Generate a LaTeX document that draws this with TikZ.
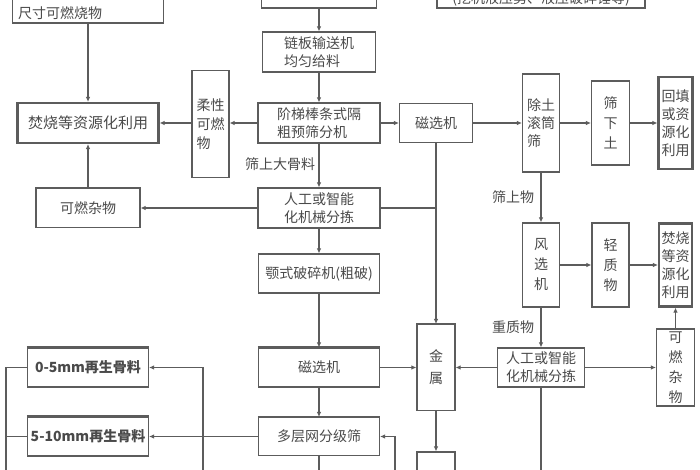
\documentclass[tikz,border=0pt]{standalone}
\usepackage{fontspec}
\setmainfont{Noto Sans CJK SC}
\usetikzlibrary{arrows.meta}
\definecolor{linegray}{HTML}{5C5C5C}
\definecolor{textgray}{HTML}{4A4A4A}

\begin{document}
\begin{tikzpicture}[x=1pt,y=-1pt,
    box/.style={draw=linegray,line width=1.1pt,text=textgray,inner sep=0pt,
      font=\fontsize{14}{18}\selectfont,align=center},
    heavy/.style={line width=2.2pt},
    vtext/.style={font=\fontsize{14}{20}\selectfont},
    lbl/.style={text=textgray,font=\fontsize{14}{18}\selectfont},
    con/.style={draw=linegray,line width=1.1pt},
    >={Latex[length=5pt,width=4.5pt]}]
      \useasboundingbox (0,0) rectangle (700,470);
      \clip (0,0) rectangle (700,470);
      \fill[white] (0,0) rectangle (700,470);
      % top row, cut off by the frame
      \node[box,minimum width=151,minimum height=40,align=left,font=\fontsize{14}{20}\selectfont] (tl) at (88,3) {拆除分拣出的木材等大\\尺寸可燃烧物};
      \node[box,minimum width=115,minimum height=40] (top) at (319,-12) {};
      \node[box,minimum width=208,minimum height=40] (tr) at (541,-12) {};
      \node[lbl] (trtxt) at (541,-1) {(挖机液压剪、液压破碎锤等)};
      % main column
      \node[box,minimum width=113,minimum height=40,align=left] (chain) at (319,52) {链板输送机\\均匀给料};
      \node[box,minimum width=122,minimum height=40,align=left] (sieve) at (319,123) {阶梯棒条式隔\\粗预筛分机};
      \node[box,minimum width=122,minimum height=40] (sortL) at (319,208) {人工或智能\\化机械分拣};
      \node[box,minimum width=121,minimum height=39] (jaw) at (319,273.5) {颚式破碎机(粗破)};
      \node[box,minimum width=121,minimum height=39] (magL) at (319,367.5) {磁选机};
      \node[box,minimum width=121,minimum height=38] (screen) at (319,436.5) {多层网分级筛};
      % left side
      \node[box,minimum width=37,minimum height=107,align=left,font=\fontsize{14}{19}\selectfont] (soft) at (210.5,124) {柔性\\可燃\\物};
      \node[box,heavy,minimum width=141,minimum height=40,font=\fontsize{15}{18}\selectfont] (burnL) at (88,123) {焚烧等资源化利用};
      \node[box,minimum width=104,minimum height=39] (miscL) at (88,208) {可燃杂物};
      \node[box,minimum width=121,minimum height=39,font=\fontsize{14}{18}\selectfont\bfseries] (agg1) at (88,367.5) {0-5mm再生骨料};
      \node[box,minimum width=121,minimum height=39,font=\fontsize{14}{18}\selectfont\bfseries] (agg2) at (88,436.5) {5-10mm再生骨料};
      % right side
      \node[box,minimum width=73,minimum height=39] (magU) at (436,123) {磁选机};
      \node[box,minimum width=37,minimum height=98,align=left] (drum) at (541,123) {除土\\滚筒\\筛};
      \node[box,vtext,minimum width=38,minimum height=84] (soil) at (610.5,123) {筛\\下\\土};
      \node[box,heavy,minimum width=34,minimum height=92] (fill) at (675.5,123) {回填\\或资\\源化\\利用};
      \node[box,vtext,minimum width=37,minimum height=84] (wind) at (541,265) {风\\选\\机};
      \node[box,vtext,minimum width=37,minimum height=84] (light) at (610.5,265) {轻\\质\\物};
      \node[box,heavy,minimum width=33,minimum height=83] (burnR) at (675.5,265) {焚烧\\等资\\源化\\利用};
      \node[box,minimum width=87,minimum height=39] (sortR) at (541,367.5) {人工或智能\\化机械分拣};
      \node[box,vtext,minimum width=38,minimum height=77] (miscR) at (675.5,367.5) {可\\燃\\杂\\物};
      \node[box,minimum width=38,minimum height=86,font=\fontsize{14}{22}\selectfont] (metal) at (436,367.5) {金\\属};
      \node[box,minimum width=38,minimum height=50] (bin) at (436,477) {};
      % heavy top edges
      \foreach \n in {miscL,agg1,agg2,magL,screen,metal}
        \draw[con,line width=2.2pt] (\n.north west) -- (\n.north east);
      % labels
      \node[lbl] (l1) at (280,164) {筛上大骨料};
      \node[lbl] (l2) at (513,197) {筛上物};
      \node[lbl] (l3) at (513,327) {重质物};
      % loose ends below the frame
      \coordinate (lbot) at (6,480);
      \coordinate (mbot) at (203,480);
      \coordinate (sbot) at (395,480);
      \coordinate (cbot) at (319,480);
      \coordinate (rbot) at (541,480);
      % connectors
      \draw[con,->] (top.south) -- (chain.north);
      \draw[con,->] (chain.south) -- (sieve.north);
      \draw[con,->] (sieve.south) -- (sortL.north);
      \draw[con,->] (sortL.south) -- (jaw.north);
      \draw[con,->] (jaw.south) -- (magL.north);
      \draw[con,->] (magL.south) -- (screen.north);
      \draw[con] (screen.south) -- (cbot);
      \draw[con,->] (tl.south) -- (burnL.north);
      \draw[con,->] (sieve.west) -- (soft.east |- sieve.west);
      \draw[con,->] (soft.west |- burnL.east) -- (burnL.east);
      \draw[con,->] (sortL.west) -- (miscL.east);
      \draw[con,->] (miscL.north) -- (burnL.south);
      \draw[con,->] (sieve.east) -- (magU.west);
      \draw[con,->] (magU.east) -- (drum.west);
      \draw[con,->] (drum.east) -- (soil.west);
      \draw[con,->] (soil.east) -- (fill.west);
      \draw[con,->] (magU.south) -- (metal.north);
      \draw[con] (sortL.east) -- (sortL.east -| magU.south);
      \draw[con,->] (drum.south) -- (wind.north);
      \draw[con,->] (wind.east) -- (light.west);
      \draw[con,->] (light.east) -- (burnR.west);
      \draw[con,->] (wind.south) -- (sortR.north);
      \draw[con,->] (sortR.east) -- (miscR.west);
      \draw[con,->] (miscR.north) -- (burnR.south);
      \draw[con,->] (sortR.west) -- (metal.east);
      \draw[con,->] (magL.east) -- (metal.west);
      \draw[con,->] (metal.south) -- (bin.north);
      \draw[con] (sortR.south) -- (rbot);
      \draw[con,->] (screen.west) -- (agg2.east);
      \draw[con,->] (mbot) |- (agg1.east);
      \draw[con,->] (sbot) |- (screen.east);
      \draw[con] (agg1.west) -| (lbot);
      \draw[con] (agg2.west) -- (agg2.west -| lbot);
\end{tikzpicture}
\end{document}
